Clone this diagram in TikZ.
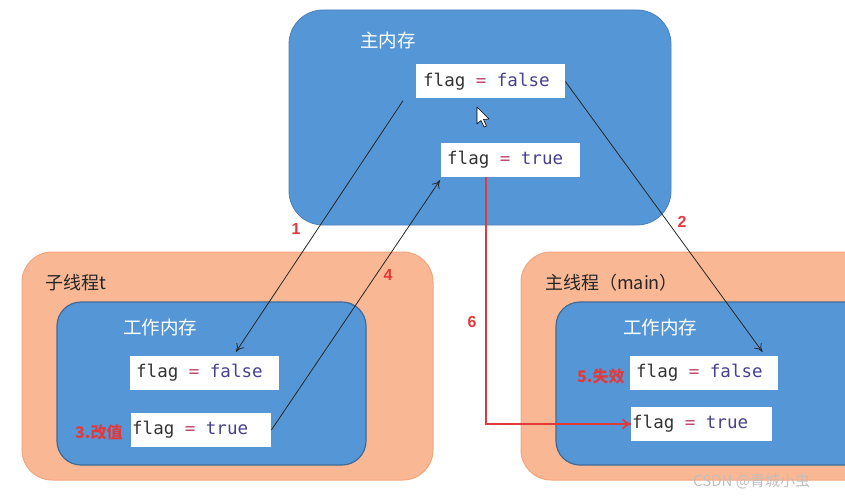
\documentclass[tikz,border=0pt]{standalone}
\usepackage{fontspec}
\setmainfont{Liberation Sans}
\newfontfamily\cjk{Noto Sans CJK SC}
\newfontfamily\codefont{DejaVu Sans Mono}
\usetikzlibrary{arrows.meta,calc}
\definecolor{memblue}{HTML}{5597D6}
\definecolor{membd}{HTML}{4A80BC}
\definecolor{innerbd}{HTML}{3E6A98}
\definecolor{orfill}{HTML}{F9B794}
\definecolor{orbd}{HTML}{F4A57C}
\definecolor{eqc}{HTML}{C04A6A}
\definecolor{kwc}{HTML}{46408F}
\definecolor{redlab}{HTML}{E23A3A}
\newcommand\monosp{\hspace*{0.602em}}
\newcommand\flagv[1]{flag\monosp{\color{eqc}=}\monosp{\color{kwc}#1}}
\tikzset{
  membox/.style={draw=membd, fill=memblue, line width=0.8pt, rounded corners=34pt},
  orbox/.style={draw=orbd, fill=orfill, line width=1pt, rounded corners=30pt},
  wbox/.style={draw=innerbd, fill=memblue, line width=1.2pt, rounded corners=24pt},
  codebox/.style={fill=white, font=\codefont\fontsize{17.5}{20}\selectfont, text=black!80, inner sep=0pt, minimum height=34pt, align=left, anchor=west},
  wtitle/.style={font=\cjk\fontsize{18.5}{21}\selectfont, text=white, anchor=west, inner sep=0pt},
  btitle/.style={font=\cjk\fontsize{18}{21}\selectfont, text=black!85, anchor=west, inner sep=0pt},
  redtag/.style={font=\cjk\bfseries\fontsize{16}{18}\selectfont, text=redlab, anchor=west, inner sep=0pt},
  numlab/.style={font=\bfseries\fontsize{16}{18}\selectfont, text=redlab, inner sep=0pt},
  conn/.style={draw=black!85, line width=0.8pt, -{To[length=8pt,width=9pt]}},
  redconn/.style={draw=redlab, line width=1.8pt, -{To[length=9pt,width=11pt]}},
}
\begin{document}
\begin{tikzpicture}[x=1pt,y=-1pt]
\useasboundingbox (0,0) rectangle (845,500);
\clip (0,0) rectangle (845,500);
% main memory
\draw[membox] (289,10) rectangle (671,225);
\node[wtitle] (mtitle) at (360,40) {主内存};
\node[codebox, minimum width=149pt, text width=135pt, inner xsep=7pt] (mf) at (416,81.5) {\flagv{false}};
\node[codebox, minimum width=139pt, text width=127pt, inner xsep=6pt] (mt) at (441,160) {\flagv{true}};
% cursor
\draw[fill=white, draw=black, line width=0.6pt, line join=round] (477,107) -- (477,124) -- (481,120.5) -- (484,127) -- (486.5,126) -- (483.5,119.5) -- (489,119) -- cycle;
% left thread
\draw[orbox] (22,252) rectangle (433,480);
\node[btitle] (ltitle) at (45,283) {子线程t};
\draw[wbox] (57,302) rectangle (366,465);
\node[wtitle] (lwtitle) at (123,327) {工作内存};
\node[codebox, minimum width=149pt, text width=137pt, inner xsep=6pt] (lf) at (130,373) {\flagv{false}};
\node[codebox, minimum width=140pt, text width=138pt, inner xsep=1pt] (lt) at (131,430) {\flagv{true}};
\node[redtag] (ltag) at (75,432) {3.改值};
% right thread
\draw[orbox] (521,252) rectangle (900,480);
\node[btitle] (rtitle) at (545,283) {主线程（main）};
\draw[wbox] (556,302) rectangle (880,465);
\node[wtitle] (rwtitle) at (623,327) {工作内存};
\node[codebox, minimum width=148pt, text width=136pt, inner xsep=6pt] (rf) at (630,373) {\flagv{false}};
\node[codebox, minimum width=141pt, text width=139pt, inner xsep=1pt] (rt) at (631,424) {\flagv{true}};
\node[redtag] (rtag) at (577,376) {5.失效};
% connectors
\draw[conn] ([shift={(-13,2)}]mf.south west) -- ([shift={(106,-4)}]lf.north west);
\node[numlab] (n1) at (296,229) {1};
\draw[conn] (lt.east) -- ([shift={(-1,3)}]mt.south west);
\node[numlab] (n4) at (388,275) {4};
\draw[conn] (mf.east) -- ([shift={(-16,-4)}]rf.north east);
\node[numlab] (n2) at (682,222) {2};
\draw[redconn] ([xshift=-24.5pt]mt.south) |- (rt.west);
\node[numlab] (n6) at (472,322) {6};
% watermark
\node[font=\cjk\fontsize{15}{18}\selectfont, text=gray!50, anchor=west, inner sep=0pt] (wm) at (693,481) {CSDN @青城小虫};
\end{tikzpicture}
\end{document}
